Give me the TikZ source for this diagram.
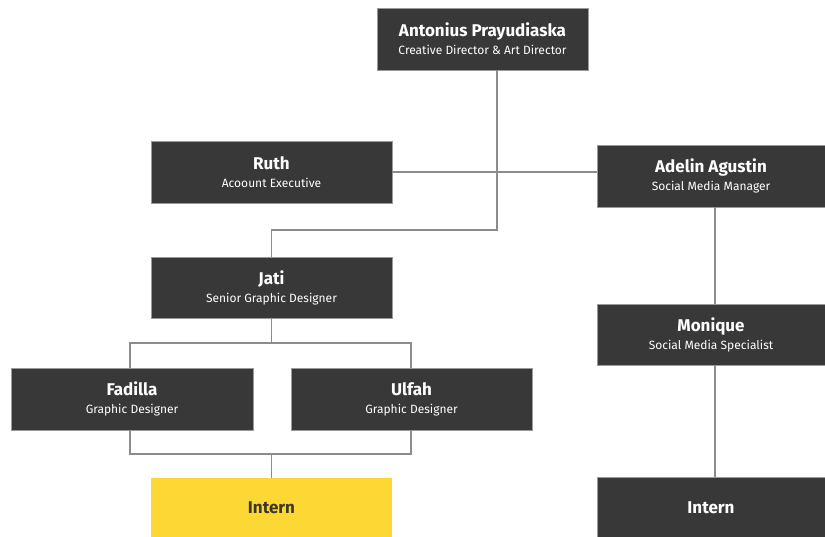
\documentclass[tikz,border=0pt]{standalone}
\usepackage{fontspec}
\setmainfont{Fira Sans}
\definecolor{boxgray}{HTML}{383838}
\definecolor{edgegray}{HTML}{9A9A9A}
\definecolor{linegray}{HTML}{8C8C8C}
\definecolor{internyellow}{HTML}{FDD835}
\definecolor{interntext}{HTML}{3A3826}
\newcommand{\ttl}[1]{{\fontsize{17}{18}\selectfont\bfseries #1}}
\newcommand{\sbt}[1]{{\fontsize{12}{18}\selectfont #1}}
\tikzset{
  orgbox/.style={draw=edgegray, line width=0.6pt, fill=boxgray, text=white, align=center, inner sep=0pt, minimum width=241pt, minimum height=62pt, font=\fontsize{12}{18}\selectfont},
  conn/.style={draw=linegray, line width=1.4pt},
}
\begin{document}
\begin{tikzpicture}[x=1pt,y=-1pt]
\useasboundingbox (0,0) rectangle (825,536);
\fill[white] (0,0) rectangle (825,536);
% boxes
\node[orgbox, minimum width=211pt] (ant) at (482.5,39) {\ttl{Antonius Prayudiaska}\\\sbt{Creative Director \& Art Director}};
\node[orgbox] (ruth) at (271.5,172) {\ttl{Ruth}\\\sbt{Acoount Executive}};
\node[orgbox, minimum width=228pt] (adel) at (711,176) {\ttl{Adelin Agustin}\\\sbt{Social Media Manager}};
\node[orgbox, minimum height=61pt] (jati) at (271.5,287.5) {\ttl{Jati}\\\sbt{Senior Graphic Designer}};
\node[orgbox, minimum width=228pt, minimum height=61pt] (moni) at (711,334.5) {\ttl{Monique}\\\sbt{Social Media Specialist}};
\node[orgbox, minimum width=242pt] (fad) at (132,399) {\ttl{Fadilla}\\\sbt{Graphic Designer}};
\node[orgbox] (ulf) at (411.5,399) {\ttl{Ulfah}\\\sbt{Graphic Designer}};
\node[orgbox, fill=internyellow, draw=none, text=interntext, minimum height=60pt] (inty) at (271.5,508) {\ttl{Intern}};
\node[orgbox, minimum width=228pt, minimum height=61pt] (intr) at (711,507.5) {\ttl{Intern}};
% helper coordinates
\coordinate (bendA) at (0,230);
\coordinate (barJ) at (0,343);
\coordinate (barF) at (0,454);
% connectors
\draw[conn] ([xshift=14.5pt]ant.south) |- (jati.north |- bendA) -- (jati.north);
\draw[conn] (ruth.east) -- (ruth.east -| adel.west);
\draw[conn] (jati.south) -- (jati.south |- barJ);
\draw[conn] ([xshift=-2pt]fad.north) |- ([xshift=-0.5pt]ulf.north |- barJ) -- ([xshift=-0.5pt]ulf.north);
\draw[conn] ([xshift=-2pt]fad.south) |- ([xshift=-0.5pt]ulf.south |- barF) -- ([xshift=-0.5pt]ulf.south);
\draw[conn] (inty.north |- barF) -- (inty.north);
\draw[conn] ([xshift=4pt]adel.south) -- ([xshift=4pt]moni.north);
\draw[conn] ([xshift=4pt]moni.south) -- ([xshift=4pt]intr.north);
\end{tikzpicture}
\end{document}
